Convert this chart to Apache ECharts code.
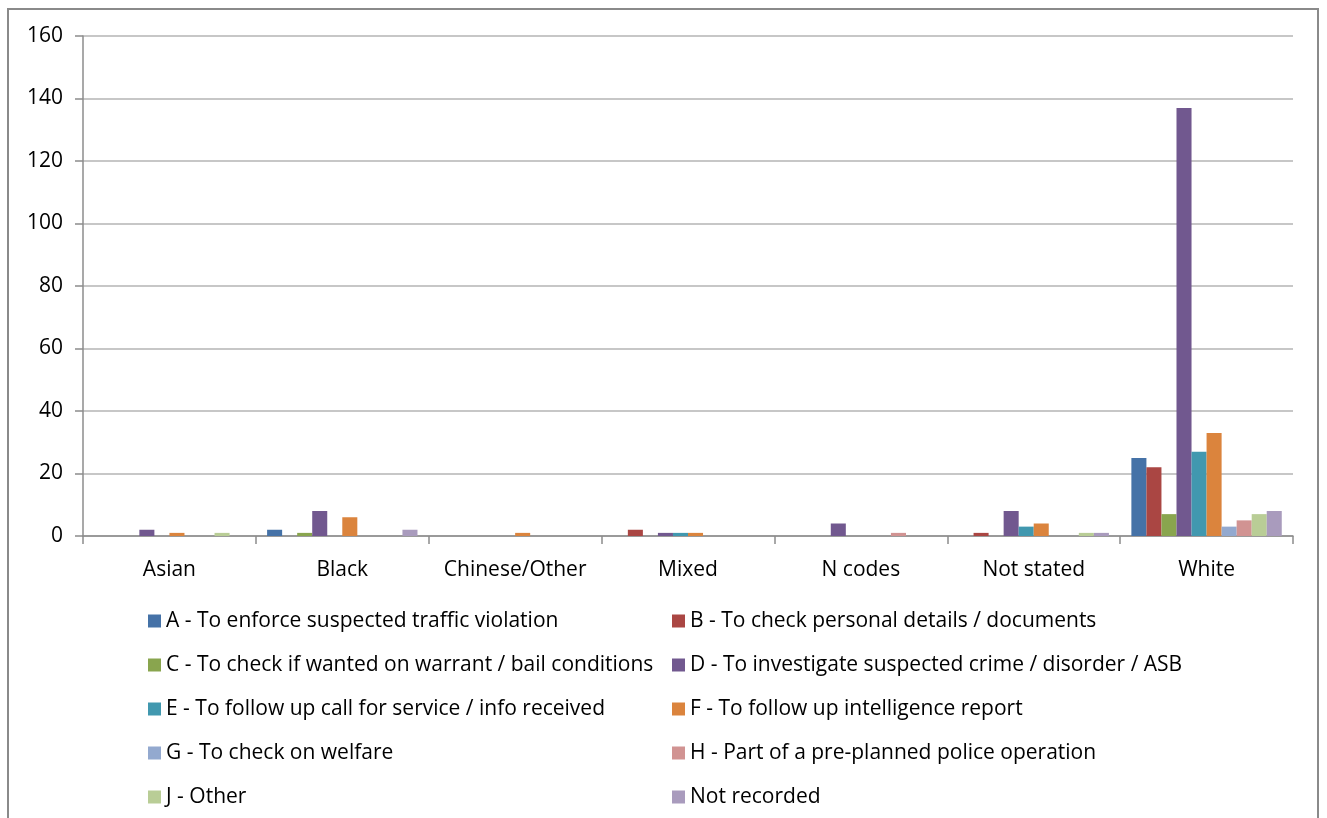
<!DOCTYPE html>
<html><head><meta charset="utf-8">
<script src="https://cdn.jsdelivr.net/npm/echarts@6/dist/echarts.min.js"></script>
<style>html,body{margin:0;padding:0;background:#fff}#c{width:1327px;height:818px}</style>
</head><body><div id="c"></div>
<script>
const categories = ['Asian','Black','Chinese/Other','Mixed','N codes','Not stated','White'];
const seriesNames = [
 'A - To enforce suspected traffic violation',
 'B - To check personal details / documents',
 'C - To check if wanted on warrant / bail conditions',
 'D - To investigate suspected crime / disorder / ASB',
 'E - To follow up call for service / info received',
 'F - To follow up intelligence report',
 'G - To check on welfare',
 'H - Part of a pre-planned police operation',
 'J - Other',
 'Not recorded'
];
const sA = [0,2,0,0,0,0,25];
const sB = [0,0,0,2,0,1,22];
const sC = [0,1,0,0,0,0,7];
const sD = [2,8,0,1,4,8,137];
const sE = [0,0,0,1,0,3,27];
const sF = [1,6,1,1,0,4,33];
const sG = [0,0,0,0,0,0,3];
const sH = [0,0,0,0,1,0,5];
const sJ = [1,0,0,0,0,1,7];
const sNR = [0,2,0,0,0,1,8];
const yTicks = [0,20,40,60,80,100,120,140,160];

const allData = [sA,sB,sC,sD,sE,sF,sG,sH,sJ,sNR];
const colors = ['#4572A7','#AA4643','#89A54E','#71588F','#4198AF','#DB843D','#93A9CF','#D19392','#B9CD96','#A99BBD'];
const font = 'Open Sans';
const chart = echarts.init(document.getElementById('c'));
const legendCommon = {
  orient:'vertical', top:610, padding:0, itemWidth:13, itemHeight:13, itemGap:22, icon:'rect',
  textStyle:{fontFamily:font, fontSize:21, color:'#000', lineHeight:22}
};
chart.setOption({
  animation:false,
  color: colors,
  graphic:[{type:'rect', shape:{x:8,y:9,width:1310,height:840}, style:{fill:'none', stroke:'#8a8a8a', lineWidth:2}, silent:true}],
  grid:{left:83, right:34, top:36, bottom:282},
  legend:[
    Object.assign({left:148, data:[seriesNames[0],seriesNames[2],seriesNames[4],seriesNames[6],seriesNames[8]]}, legendCommon),
    Object.assign({left:672, data:[seriesNames[1],seriesNames[3],seriesNames[5],seriesNames[7],seriesNames[9]]}, legendCommon)
  ],
  xAxis:{type:'category', data:categories,
    axisLine:{lineStyle:{color:'#8c8c8c', width:1.5}},
    axisTick:{show:true, length:8, lineStyle:{color:'#8c8c8c', width:1.5}},
    axisLabel:{interval:0, fontFamily:font, fontSize:21, color:'#000', margin:24}},
  yAxis:{type:'value', min:yTicks[0], max:yTicks[yTicks.length-1], interval:20,
    axisLine:{show:true, lineStyle:{color:'#8c8c8c', width:1.5}},
    axisTick:{show:true, length:8, lineStyle:{color:'#8c8c8c', width:1.5}},
    splitLine:{lineStyle:{color:'#b4b4b4', width:1.5}},
    axisLabel:{fontFamily:font, fontSize:21, color:'#000', margin:20}},
  series: allData.map((d,i)=>({
    name: seriesNames[i], type:'bar', data:d, barGap:'0%', barCategoryGap:'13%',
    itemStyle:{color:colors[i]}
  }))
});
</script></body></html>
